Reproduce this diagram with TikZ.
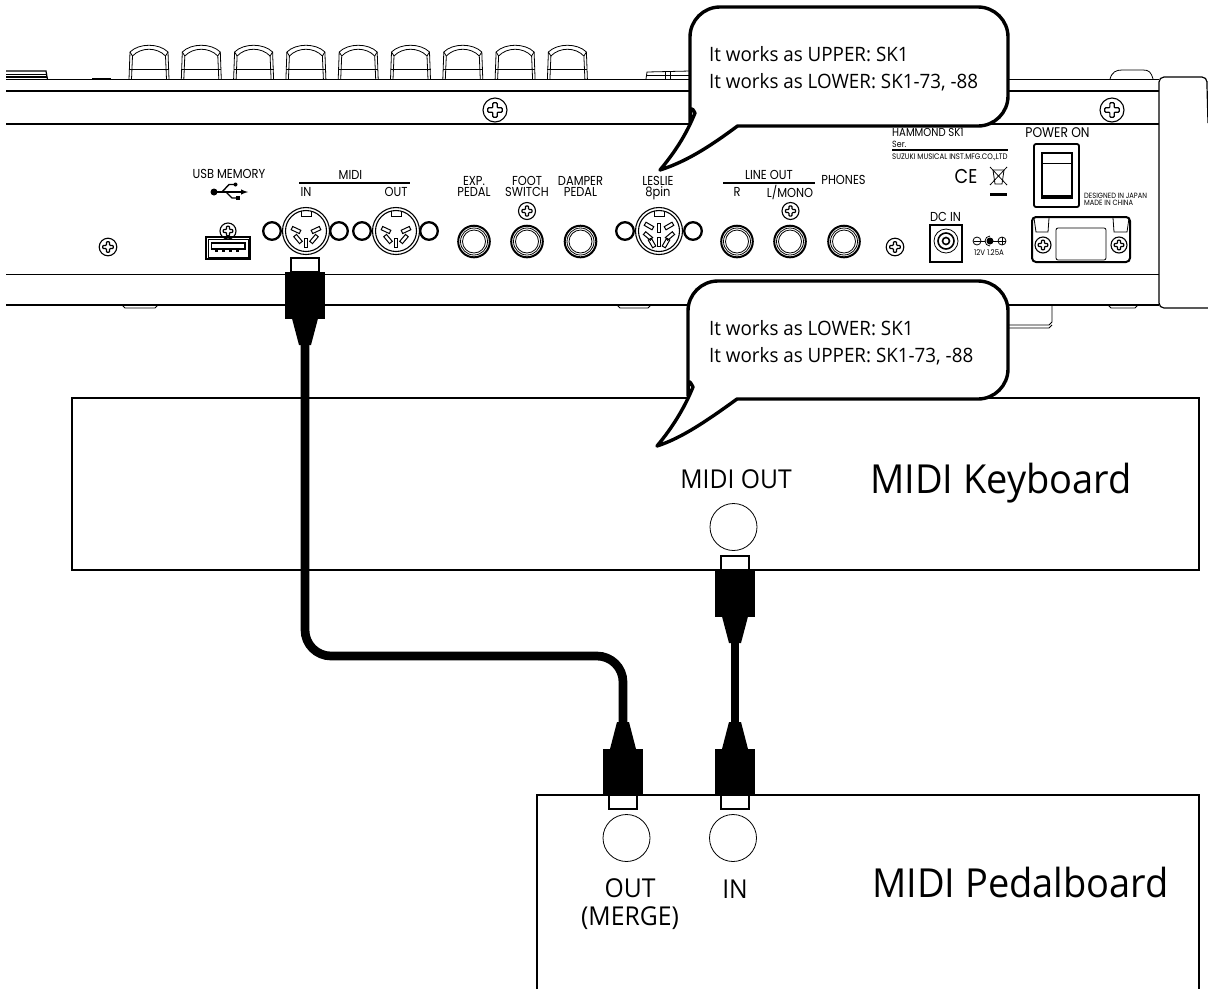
\documentclass[tikz,border=0pt]{standalone}
\usepackage{fontspec}
\setmainfont{Open Sans}
\newfontfamily\panelfont[FakeStretch=0.88]{Poppins}
\newfontfamily\labelfont[FakeStretch=0.95]{Open Sans}
\usepackage{tikz}

\tikzset{
    rail/.style={line width=1.2pt},
    thinline/.style={line width=0.8pt},
    bigbox/.style={line width=1.6pt},
    bubble/.style={line width=3.4pt, fill=white, line join=round},
    cable/.style={line width=8.7pt},
    panel/.style={font=\panelfont\fontsize{#1}{#1}\selectfont, inner sep=0pt},
    panel/.default=13,
    bubbletext/.style={font=\labelfont\fontsize{19.8}{27}\selectfont, anchor=base west, inner sep=0pt},
    biglabel/.style={font=\labelfont\fontsize{40}{44}\selectfont, anchor=base west, inner sep=0pt},
    midilabel/.style={font=\labelfont\fontsize{26}{28}\selectfont, inner sep=0pt, align=center}
}

% screw head: x, y, radius
\newcommand{\screwhead}[3]{
    \draw[line width=1.1pt] (#1,#2) circle[radius=#3pt];
    \begin{scope}[shift={(#1,#2)}, scale=#3/10]
        \draw[line width=1.2pt, rounded corners=0.8pt] (-1.8,-1.8) -- (-1.8,-6) -- (1.8,-6) -- (1.8,-1.8) -- (6,-1.8) -- (6,1.8) -- (1.8,1.8) -- (1.8,6) -- (-1.8,6) -- (-1.8,1.8) -- (-6,1.8) -- (-6,-1.8) -- cycle;
    \end{scope}
}
% round jack: x, y
\newcommand{\phonejack}[2]{
    \draw[line width=2pt] (#1,#2) circle[radius=15.8pt];
    \draw[thinline] (#1,#2) circle[radius=13.5pt];
    \draw[thinline] (#1,#2) circle[radius=11.5pt];
}
% din socket with its two rings: x, y, left ring, right ring
\newcommand{\dinsocket}[4]{
    \draw[line width=2.3pt] (#3,#2) circle[radius=8.8pt];
    \draw[line width=2.3pt] (#4,#2) circle[radius=8.8pt];
    \draw[line width=1.1pt] (#1,#2) circle[radius=23.5pt];
    \draw[line width=1.1pt] (#1,#2) circle[radius=20.5pt];
    \draw[thinline] (#1-5,#2-20.5) -- (#1-5,#2-15) -- (#1+5,#2-15) -- (#1+5,#2-20.5);
}
% pin of a din socket: x, y, angle
\newcommand{\dinpin}[3]{
    \draw[line width=1pt, rotate around={#3:(#1,#2)}] (#1-4.5,#2-1.8) rectangle (#1+4.5,#2+1.8);
}
% plug seen from above / below: name, x, top of the white part
\newcommand{\plugdown}[3]{
    \draw[line width=1.4pt, fill=white] (#2-14,#3) rectangle (#2+14,#3+14);
    \fill (#2-20,#3+14) rectangle (#2+20,#3+60.5);
    \fill (#2-13,#3+60.5) -- (#2+13,#3+60.5) -- (#2+6,#3+87) -- (#2-6,#3+87) -- cycle;
    \coordinate (#1) at (#2,#3+86);
}
\newcommand{\plugup}[3]{
    \draw[line width=1.4pt, fill=white] (#2-14,#3) rectangle (#2+14,#3-14);
    \fill (#2-20,#3-14) rectangle (#2+20,#3-60);
    \fill (#2-13,#3-60) -- (#2+13,#3-60) -- (#2+6,#3-87) -- (#2-6,#3-87) -- cycle;
    \coordinate (#1) at (#2,#3-86);
}

\begin{document}
\begin{tikzpicture}[x=1pt, y=-1pt]
    \useasboundingbox (0,0) rectangle (1208,989);

    % instrument rails
    \draw[rail] (6,79.5) -- (1159,79.5);
    \draw[rail] (6,91) -- (1159,91);
    \draw[rail] (6,124) -- (1159,124);
    \draw[rail] (6,274.5) -- (1159,274.5);
    \draw[rail] (6,305) -- (1159,305);

    \draw[rail] (6,71) -- (46,71) -- (47.5,79.5);
    \draw[rail] (6,74.5) -- (47,74.5);
    \draw[rail] (6,77) -- (47,77);
    \draw[line width=1.6pt] (92,79) -- (111,79);
    \draw[thinline] (646,79) -- (647,72) -- (690,71);
    \draw[thinline] (646,75) -- (690,75);
    \draw[thinline] (665,71) -- (665,79);
    \draw[thinline] (670,71) -- (670,79);
    \draw[thinline] (1110,79) .. controls (1112,72) and (1116,70) .. (1122,70) -- (1143,70) .. controls (1149,70) and (1151,72) .. (1153,79);
    \draw[thinline] (122,305) -- (125,308) -- (155,308) -- (158,305);
    \draw[thinline] (617,305) -- (620,308) -- (648,308) -- (651,305);
    \draw[thinline] (1108,305) -- (1111,308) -- (1135,308) -- (1138,305);
    \draw[thinline] (1000,325) -- (1049,325) -- (1052,322) -- (1052,305);
    \draw[thinline] (1000,328) -- (1049,328) -- (1052,325);

    % knobs
    \foreach \i in {0,...,8}{
        \begin{scope}[shift={({129+52.3*\i},0)}, thinline]
            \draw (0,79.5) -- (1,52) .. controls (10,43) and (30,43) .. (39,52) -- (40,79.5);
            \draw (2.5,79.5) -- (3.5,56) .. controls (12,47) and (28,47) .. (36.5,56) -- (37.5,79.5);
            \draw (1,52) -- (3.5,56);
            \draw (39,52) -- (36.5,56);
            \draw[rail] (0,69.5) -- (40,69.5);
        \end{scope}
    }

    % right end
    \draw[rail, rounded corners=5pt] (1208,123) -- (1207,86) -- (1207,77) -- (1159,77) -- (1159,308) -- (1208,308);

    % screws
    \screwhead{495}{110}{12}
    \screwhead{1112}{110}{12}
    \screwhead{108}{247}{8.8}
    \screwhead{228}{231}{8}
    \screwhead{527}{211}{8.5}
    \screwhead{790.5}{211}{8.5}
    \screwhead{895}{247}{8.8}

    % usb port
    \node[panel] (UsbLabel) at (229,174) {USB MEMORY};
    \draw[line width=1.4pt] (206,237) rectangle (250,259);
    \draw[thinline] (208,239) rectangle (248,257);
    \draw[line width=1.3pt] (211.5,243) rectangle (245,249);
    \foreach \x in {215,222,229,236}{
        \fill (\x,250) rectangle (\x+3,252);
    }
    \fill (214,192) circle[radius=3.5pt];
    \draw[line width=1.4pt, -latex] (214,192) -- (248,192);
    \draw[line width=1.4pt] (222,192) -- (229,184.5) -- (234,184.5);
    \fill (235.5,184.5) circle[radius=2pt];
    \draw[line width=1.4pt] (226,192) -- (232,198) -- (237,198);
    \fill (236,196) rectangle (240,200);

    % midi and leslie sockets
    \node[panel] (MidiLabel) at (350.5,175) {MIDI};
    \draw[rail] (299,183) -- (409.5,183);
    \node[panel] (MidiInLabel) at (306,192) {IN};
    \node[panel] (MidiOutLabel) at (396,192) {OUT};
    \dinsocket{306}{231}{272}{339}
    \dinsocket{396}{231}{362}{429}
    \foreach \cx in {306,396}{
        \foreach \dx/\dy/\rot in {-10/-1/-25, 10/-1/25, -8/8/-50, 8/8/50, 0/12/90}{
            \dinpin{\cx+\dx}{231+\dy}{\rot}
        }
    }
    \node[panel] (LeslieLabel) at (658,181) {LESLIE};
    \node[panel] (LeslieSub) at (658,193) {8pin};
    \dinsocket{659}{231}{625}{693}
    \foreach \dx/\dy/\rot in {-10/-5/-30, 10/-5/30, -11/5/-40, 11/5/40, -7/12/-60, 7/12/60, 0/-3/90, 0/11/90}{
        \dinpin{659+\dx}{231+\dy}{\rot}
    }

    % quarter inch jacks
    \node[panel] (ExpLabel) at (474,181) {EXP.};
    \node[panel] (ExpSub) at (474,192) {PEDAL};
    \node[panel] (FootLabel) at (527,181) {FOOT};
    \node[panel] (FootSub) at (527,192) {SWITCH};
    \node[panel] (DamperLabel) at (580.5,181) {DAMPER};
    \node[panel] (DamperSub) at (580.5,192) {PEDAL};
    \node[panel] (LineLabel) at (769,175) {LINE OUT};
    \draw[rail] (723,183) -- (815,183);
    \node[panel] (RLabel) at (737,192) {R};
    \node[panel] (MonoLabel) at (790,192) {L/MONO};
    \node[panel] (PhonesLabel) at (843.5,180) {PHONES};
    \foreach \x in {474,527,580.5,737,790,844}{
        \phonejack{\x}{241.5}
    }

    % serial plate
    \node[panel=11.5, anchor=west] (HammondLabel) at (892,132.5) {HAMMOND SK1};
    \node[panel=9, anchor=west] (SerLabel) at (892,144.5) {Ser.};
    \draw[rail] (892,150) -- (1008,150);
    \node[panel=8, anchor=west] (SuzukiLabel) at (892,157) {SUZUKI MUSICAL INST.MFG.CO.,LTD};
    \node[panel=20] (CeLabel) at (966,176) {CE};
    \draw[thinline] (990,167) -- (1007,185);
    \draw[thinline] (1007,167) -- (990,185);
    \draw[thinline] (993,170) -- (1004,170) -- (1002,184) -- (995,184) -- cycle;
    \fill (990,192.5) rectangle (1007,195.5);

    % dc in
    \node[panel] (DcLabel) at (945.5,217) {DC IN};
    \draw[line width=1.4pt] (930,225) rectangle (962,262);
    \draw[thinline] (946,241) circle[radius=12pt];
    \draw[line width=1.6pt] (946,241) circle[radius=8pt];
    \draw[line width=1.6pt] (946,241) circle[radius=3.5pt];
    \draw[thinline] (977,241) circle[radius=4pt];
    \draw[thinline] (974,241) -- (985,241);
    \fill (990,241) circle[radius=3.5pt];
    \draw[thinline] (990,236) arc[start angle=90, end angle=270, radius=5pt];
    \draw[thinline] (990,241) -- (998,241);
    \draw[thinline] (1002,241) circle[radius=4pt];
    \draw[thinline] (998,241) -- (1006,241);
    \draw[thinline] (1002,237) -- (1002,245);
    \node[panel=8] (VoltLabel) at (989,253) {12V 1.25A};

    % power switch
    \node[panel=14] (PowerLabel) at (1057.5,133) {POWER ON};
    \draw[line width=1.8pt, rounded corners=2pt] (1034,144) rectangle (1079,207);
    \draw[line width=1.8pt] (1042,153) rectangle (1072,198);
    \draw[thinline] (1042,163) -- (1072,163);
    \fill (1042,195) rectangle (1072,198);
    \node[panel=7.6, anchor=west] (DesignedLabel) at (1084,196) {DESIGNED IN JAPAN};
    \node[panel=7.6, anchor=west] (MadeLabel) at (1084,203) {MADE IN CHINA};

    % vga port
    \draw[line width=2pt, rounded corners=4pt] (1032,217) rectangle (1130,262);
    \draw[thinline, rounded corners=2pt] (1056,228) rectangle (1106,260);
    \draw[thinline] (1034,218) -- (1036,232) -- (1048,232) -- (1049,218);
    \draw[thinline] (1113,218) -- (1114,232) -- (1127,232) -- (1129,218);
    \screwhead{1043}{245}{8}
    \screwhead{1119}{245}{8}

    % boxes
    \draw[bigbox] (72,398) rectangle (1199,570);
    \draw[bigbox] (537,989) -- (537,795) -- (1199,795) -- (1199,989);

    % ports
    \node[circle, draw, thinline, minimum size=47pt, inner sep=0pt] (KeyOut) at (733.5,527) {};
    \node[circle, draw, thinline, minimum size=47pt, inner sep=0pt] (PedalOut) at (626.5,838) {};
    \node[circle, draw, thinline, minimum size=47pt, inner sep=0pt] (PedalIn) at (733,838) {};
    \node[midilabel, anchor=base] (KeyOutLabel) at (736,488) {MIDI OUT};
    \node[midilabel] (PedalOutLabel) at (630,904) {OUT\\(MERGE)};
    \node[midilabel, anchor=base] (PedalInLabel) at (735,898) {IN};
    \node[biglabel] (KeyLabel) at (870,493) {MIDI Keyboard};
    \node[biglabel] (PedalLabel) at (872,897) {MIDI Pedalboard};

    % cables
    \plugdown{MidiPlug}{305}{258}
    \plugdown{KeyPlug}{735}{556}
    \plugup{PedalOutPlug}{623}{809}
    \plugup{PedalInPlug}{735}{809}
    \coordinate (CableBend) at (464,656);
    \draw[cable, rounded corners=26pt] (MidiPlug) |- (CableBend) -| (PedalOutPlug);
    \draw[cable] (KeyPlug) -- (PedalInPlug);

    % callouts
    \draw[bubble] (737.5,126) [rounded corners=30pt] -- (1008,126) -- (1008,7) -- (690,7) -- (690,95) [sharp corners] .. controls (690,103) and (692,108) .. (695,113) .. controls (686,135) and (675,152) .. (660,170) .. controls (685,162) and (708,148) .. (737.5,126) -- cycle;
    \draw[bubble] (737,399) [rounded corners=30pt] -- (1008,399) -- (1008,281) -- (688,281) -- (688,366) [sharp corners] .. controls (688,375) and (690,382) .. (693,387) .. controls (684,409) and (672,428) .. (657,446) .. controls (682,438) and (708,420) .. (737,399) -- cycle;
    \node[bubbletext] (UpperLine) at (709,61) {It works as UPPER: SK1};
    \node[bubbletext] (LowerLine) at (709,88) {It works as LOWER: SK1-73, -88};
    \node[bubbletext] (LowerLineB) at (709,335) {It works as LOWER: SK1};
    \node[bubbletext] (UpperLineB) at (709,362) {It works as UPPER: SK1-73, -88};
\end{tikzpicture}
\end{document}
